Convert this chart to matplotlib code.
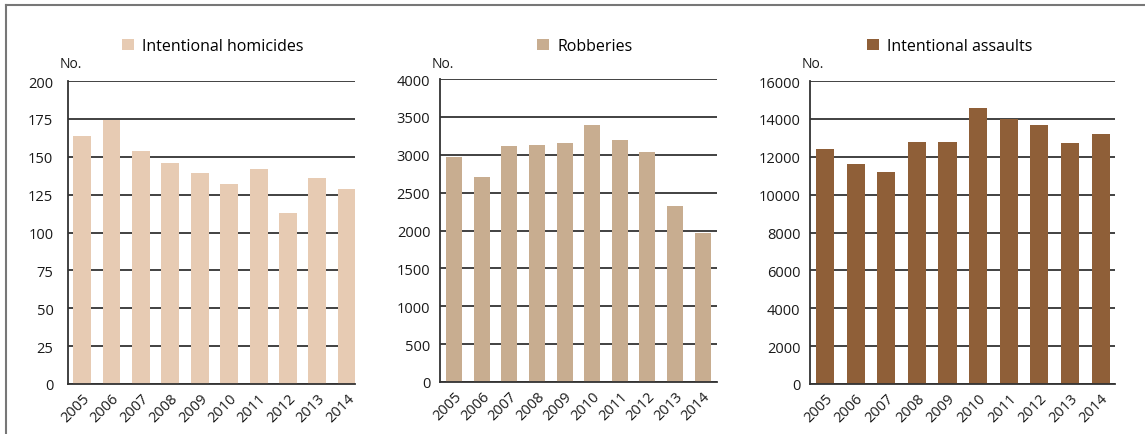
''' Three panels of crime counts, 2005-2014.
- Intentional homicides
- Robberies
- Intentional assaults
'''

import numpy as np
import matplotlib.pyplot as plt
from matplotlib.lines import Line2D

plt.rcParams['font.family'] = ['Open Sans', 'DejaVu Sans']

# Data
years = ['2005', '2006', '2007', '2008', '2009', '2010', '2011', '2012', '2013', '2014']
homicides = [164, 174, 154, 146, 139, 132, 142, 113, 136, 129]
robberies = [2970, 2710, 3110, 3130, 3160, 3390, 3200, 3030, 2320, 1970]
assaults = [12400, 11600, 11200, 12800, 12800, 14600, 14000, 13700, 12750, 13200]

W, H = 1145, 435
fig = plt.figure(figsize=(W/100, H/100), dpi=100)

# outer frame (top and left only visible)
fig.add_artist(Line2D([6/W, 1], [1-6/H, 1-6/H], color='#777777', lw=1.5))
fig.add_artist(Line2D([6/W, 6/W], [0, 1-6/H], color='#777777', lw=1.5))

grid_col = '#333333'

#----------------------------------------------------------------------
def panel(box, values, color, label, ymax, step, width, xlim, ypad, legx):
    """Draw one bar panel; box is (left, top, right, bottom) in pixels"""
    l, t, r, b = box
    ax = fig.add_axes([l/W, 1-b/H, (r-l)/W, (b-t)/H])
    x = np.arange(len(years))
    ax.bar(x, values, width=width, color=color, label=label, zorder=3)

    ax.set_ylim(0, ymax)
    ax.set_yticks(np.arange(0, ymax+1, step))
    ax.set_xlim(*xlim)
    ax.set_xticks(x)
    ax.set_xticklabels(years, rotation=45, ha='right', rotation_mode='anchor')
    ax.tick_params(length=0, labelsize=10.5, colors='#1a1a1a')
    ax.tick_params(axis='y', pad=ypad)
    ax.tick_params(axis='x', pad=5)

    for yv in ax.get_yticks():
        ax.axhline(yv, color=grid_col, lw=1.3, zorder=1)
    for s in ['top', 'right']:
        ax.spines[s].set_visible(False)
    for s in ['left', 'bottom']:
        ax.spines[s].set_color(grid_col)
        ax.spines[s].set_linewidth(1.3)
        ax.spines[s].set_zorder(4)

    # "No." unit label just above the y-axis
    fig.text((l+3)/W, 1-64/H, 'No.', fontsize=10, color='#1a1a1a',
             va='center', ha='center')
    ax.legend(loc='center', bbox_to_anchor=(legx/W, 1-47/H),
              bbox_transform=fig.transFigure, frameon=False,
              fontsize=11.5, handlelength=0.75, handleheight=0.75,
              handletextpad=0.5, borderpad=0)
    return ax

panel((68, 82, 355, 385), homicides, '#E7CBB3', 'Intentional homicides',
      200, 25, 0.61, (-0.48, 9.28), 10.5, 213)
panel((440, 80, 717, 383), robberies, '#C8AD90', 'Robberies',
      4000, 500, 0.58, (-0.51, 9.52), 7, 585)
panel((810, 82, 1115, 385), assaults, '#8F5F38', 'Intentional assaults',
      16000, 2000, 0.59, (-0.49, 9.47), 7, 950)

plt.savefig('out.png', dpi=100)
